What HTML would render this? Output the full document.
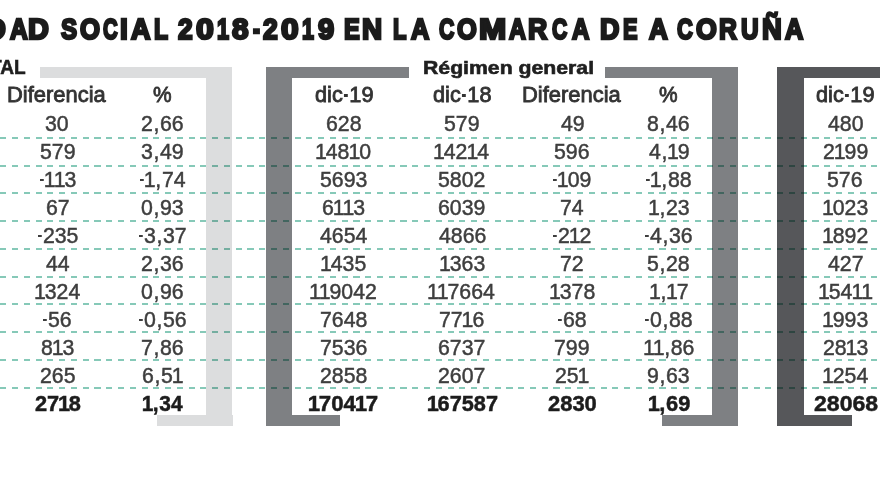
<!DOCTYPE html>
<html><head><meta charset="utf-8"><title>Seguridad Social</title>
<style>
html,body{margin:0;padding:0;background:#fff;}
body{width:880px;height:495px;overflow:hidden;position:relative;font-family:"Liberation Sans",sans-serif;}
.x{position:absolute;white-space:nowrap;line-height:1;transform-origin:0 0;}
.n{font-size:22.5px;color:#3e3e3e;-webkit-text-stroke:0.5px #3e3e3e;}
.nb{font-size:22.5px;font-weight:bold;color:#1c1c1c;-webkit-text-stroke:0.5px #1c1c1c;}
.hd{font-size:22.5px;color:#333;-webkit-text-stroke:0.85px #333;}
.ti{font-size:29.6px;font-weight:bold;color:#1b1b1b;-webkit-text-stroke:2.5px #1b1b1b;}
.gh{font-size:19px;font-weight:bold;color:#1f1f1f;-webkit-text-stroke:0.6px #1f1f1f;}
.gh2{font-size:20.3px;font-weight:bold;color:#1f1f1f;-webkit-text-stroke:0.6px #1f1f1f;}
i{font-style:normal;}
i.o{margin:0 -1.1px;}
i.c{margin:0 0.7px;}
.nb i.o{margin:0 -1.3px;}
i.m{display:inline-block;width:4.4px;height:2.1px;background:currentColor;vertical-align:6.3px;margin:0 0.8px 0 0;}
.hd i.m{width:4px;height:2.8px;vertical-align:5.2px;margin:0 1.4px;}
.bar{position:absolute;}
.dl{mix-blend-mode:multiply;position:absolute;left:0;width:880px;height:2px;background:repeating-linear-gradient(90deg,transparent 0,transparent 0.3px,#86c9b8 0.3px,#86c9b8 6.4px,transparent 6.4px,transparent 11.77px);}
</style></head><body>
<div class="bar" style="left:40.2px;top:67.2px;width:192.3px;height:10.8px;background:#dcddde"></div>
<div class="bar" style="left:206.2px;top:67.2px;width:26.3px;height:358.6px;background:#dcddde"></div>
<div class="bar" style="left:157px;top:415px;width:75.5px;height:10.8px;background:#dcddde"></div>
<div class="bar" style="left:266px;top:67.2px;width:143.0px;height:10.8px;background:#7e8083"></div>
<div class="bar" style="left:266px;top:67.2px;width:26.4px;height:358.6px;background:#7e8083"></div>
<div class="bar" style="left:266px;top:415px;width:74.0px;height:10.8px;background:#7e8083"></div>
<div class="bar" style="left:604.5px;top:67.2px;width:133.9px;height:10.8px;background:#7e8083"></div>
<div class="bar" style="left:711.6px;top:67.2px;width:26.8px;height:358.6px;background:#7e8083"></div>
<div class="bar" style="left:662px;top:415px;width:76.4px;height:10.8px;background:#7e8083"></div>
<div class="bar" style="left:777.4px;top:67.2px;width:102.6px;height:10.8px;background:#56575a"></div>
<div class="bar" style="left:777.4px;top:67.2px;width:26.9px;height:358.6px;background:#56575a"></div>
<div class="bar" style="left:777.4px;top:415px;width:74.6px;height:10.8px;background:#56575a"></div>
<div class="dl" style="top:137.00px"></div>
<div class="dl" style="top:164.73px"></div>
<div class="dl" style="top:192.46px"></div>
<div class="dl" style="top:220.19px"></div>
<div class="dl" style="top:247.92px"></div>
<div class="dl" style="top:275.65px"></div>
<div class="dl" style="top:303.38px"></div>
<div class="dl" style="top:331.11px"></div>
<div class="dl" style="top:358.84px"></div>
<div class="dl" style="top:386.57px"></div>
<div class="x ti" style="left:-14.58px;top:13.50px;transform:scaleX(0.9762)">D</div>
<div class="x ti" style="left:10.03px;top:13.50px;transform:scaleX(0.8304)">A</div>
<div class="x ti" style="left:28.42px;top:13.50px;transform:scaleX(0.9762)">D</div>
<div class="x ti" style="left:60.90px;top:13.50px;transform:scaleX(0.8150)">S</div>
<div class="x ti" style="left:79.60px;top:13.50px;transform:scaleX(0.8696)">O</div>
<div class="x ti" style="left:102.60px;top:13.50px;transform:scaleX(0.6864)">C</div>
<div class="x ti" style="left:119.86px;top:13.50px;transform:scaleX(0.9429)">I</div>
<div class="x ti" style="left:131.31px;top:13.50px;transform:scaleX(0.9087)">A</div>
<div class="x ti" style="left:153.52px;top:13.50px;transform:scaleX(0.7778)">L</div>
<div class="x ti" style="left:177.80px;top:13.50px;transform:scaleX(0.8882)">2</div>
<div class="x ti" style="left:195.50px;top:13.50px;transform:scaleX(1.0824)">0</div>
<div class="x ti" style="left:216.57px;top:13.50px;transform:scaleX(0.7313)">1</div>
<div class="x ti" style="left:232.00px;top:13.50px;transform:scaleX(1.0059)">8</div>
<div class="x ti" style="left:252.70px;top:13.50px;transform:scaleX(0.7000)">-</div>
<div class="x ti" style="left:263.40px;top:13.50px;transform:scaleX(0.8941)">2</div>
<div class="x ti" style="left:280.80px;top:13.50px;transform:scaleX(1.0706)">0</div>
<div class="x ti" style="left:302.07px;top:13.50px;transform:scaleX(0.7250)">1</div>
<div class="x ti" style="left:317.60px;top:13.50px;transform:scaleX(0.9824)">9</div>
<div class="x ti" style="left:343.80px;top:13.50px;transform:scaleX(0.8000)">E</div>
<div class="x ti" style="left:362.46px;top:13.50px;transform:scaleX(0.9400)">N</div>
<div class="x ti" style="left:392.76px;top:13.50px;transform:scaleX(0.7444)">L</div>
<div class="x ti" style="left:410.86px;top:13.50px;transform:scaleX(0.8565)">A</div>
<div class="x ti" style="left:439.10px;top:13.50px;transform:scaleX(0.7182)">C</div>
<div class="x ti" style="left:457.10px;top:13.50px;transform:scaleX(0.8609)">O</div>
<div class="x ti" style="left:479.00px;top:13.50px;transform:scaleX(1.1043)">M</div>
<div class="x ti" style="left:509.49px;top:13.50px;transform:scaleX(0.7913)">A</div>
<div class="x ti" style="left:528.20px;top:13.50px;transform:scaleX(0.9000)">R</div>
<div class="x ti" style="left:551.60px;top:13.50px;transform:scaleX(0.7136)">C</div>
<div class="x ti" style="left:572.41px;top:13.50px;transform:scaleX(0.8130)">A</div>
<div class="x ti" style="left:599.69px;top:13.50px;transform:scaleX(0.9095)">D</div>
<div class="x ti" style="left:622.56px;top:13.50px;transform:scaleX(0.7368)">E</div>
<div class="x ti" style="left:648.58px;top:13.50px;transform:scaleX(0.8783)">A</div>
<div class="x ti" style="left:676.90px;top:13.50px;transform:scaleX(0.7409)">C</div>
<div class="x ti" style="left:695.70px;top:13.50px;transform:scaleX(0.9043)">O</div>
<div class="x ti" style="left:718.66px;top:13.50px;transform:scaleX(0.8364)">R</div>
<div class="x ti" style="left:741.10px;top:13.50px;transform:scaleX(0.8238)">U</div>
<div class="x ti" style="left:762.18px;top:13.50px;transform:scaleX(0.9250)">Ñ</div>
<div class="x ti" style="left:785.46px;top:13.50px;transform:scaleX(0.8565)">A</div>
<div class="x gh2" style="left:-9.72px;top:57.40px;transform:scaleX(0.9400)">TAL</div>
<div class="x gh" style="left:422.88px;top:58.30px;transform:scaleX(1.1172)">Régimen general</div>
<div class="x hd" style="left:7.39px;top:83.80px;transform:scaleX(0.9750)">Diferencia</div>
<div class="x n" style="left:45.31px;top:113.40px;transform:scaleX(0.9450)">30</div>
<div class="x n" style="left:39.65px;top:141.33px;transform:scaleX(0.9450)">579</div>
<div class="x n" style="left:39.65px;top:169.26px;transform:scaleX(0.9450)"><i class="m"></i><i class="o">1</i><i class="o">1</i>3</div>
<div class="x n" style="left:45.79px;top:197.19px;transform:scaleX(0.9450)">67</div>
<div class="x n" style="left:37.76px;top:225.12px;transform:scaleX(0.9450)"><i class="m"></i>235</div>
<div class="x n" style="left:45.79px;top:253.05px;transform:scaleX(0.9450)">44</div>
<div class="x n" style="left:34.92px;top:280.98px;transform:scaleX(0.9450)"><i class="o">1</i>324</div>
<div class="x n" style="left:43.43px;top:308.91px;transform:scaleX(0.9450)"><i class="m"></i>56</div>
<div class="x n" style="left:40.59px;top:336.84px;transform:scaleX(0.9450)">8<i class="o">1</i>3</div>
<div class="x n" style="left:39.65px;top:364.77px;transform:scaleX(0.9450)">265</div>
<div class="x nb" style="left:35.00px;top:392.90px;transform:scaleX(0.9681)">27<i class="o">1</i>8</div>
<div class="x hd" style="left:153.30px;top:83.80px;transform:scaleX(0.9300)">%</div>
<div class="x n" style="left:140.87px;top:113.40px;transform:scaleX(0.9450)">2<i class="c">,</i>66</div>
<div class="x n" style="left:140.87px;top:141.33px;transform:scaleX(0.9450)">3<i class="c">,</i>49</div>
<div class="x n" style="left:139.92px;top:169.26px;transform:scaleX(0.9450)"><i class="m"></i><i class="o">1</i><i class="c">,</i>74</div>
<div class="x n" style="left:140.87px;top:197.19px;transform:scaleX(0.9450)">0<i class="c">,</i>93</div>
<div class="x n" style="left:138.97px;top:225.12px;transform:scaleX(0.9450)"><i class="m"></i>3<i class="c">,</i>37</div>
<div class="x n" style="left:140.87px;top:253.05px;transform:scaleX(0.9450)">2<i class="c">,</i>36</div>
<div class="x n" style="left:140.87px;top:280.98px;transform:scaleX(0.9450)">0<i class="c">,</i>96</div>
<div class="x n" style="left:138.97px;top:308.91px;transform:scaleX(0.9450)"><i class="m"></i>0<i class="c">,</i>56</div>
<div class="x n" style="left:140.87px;top:336.84px;transform:scaleX(0.9450)">7<i class="c">,</i>86</div>
<div class="x n" style="left:141.81px;top:364.77px;transform:scaleX(0.9450)">6<i class="c">,</i>5<i class="o">1</i></div>
<div class="x nb" style="left:142.50px;top:392.90px;transform:scaleX(0.9302)"><i class="o">1</i><i class="c">,</i>34</div>
<div class="x hd" style="left:314.55px;top:83.80px;transform:scaleX(0.9650)">dic<i class="m"></i>19</div>
<div class="x n" style="left:325.55px;top:113.40px;transform:scaleX(0.9450)">628</div>
<div class="x n" style="left:316.10px;top:141.33px;transform:scaleX(0.9450)"><i class="o">1</i>48<i class="o">1</i>0</div>
<div class="x n" style="left:319.88px;top:169.26px;transform:scaleX(0.9450)">5693</div>
<div class="x n" style="left:321.76px;top:197.19px;transform:scaleX(0.9450)">6<i class="o">1</i><i class="o">1</i>3</div>
<div class="x n" style="left:319.88px;top:225.12px;transform:scaleX(0.9450)">4654</div>
<div class="x n" style="left:321.29px;top:253.05px;transform:scaleX(0.9450)"><i class="o">1</i>435</div>
<div class="x n" style="left:310.43px;top:280.98px;transform:scaleX(0.9450)"><i class="o">1</i><i class="o">1</i>9042</div>
<div class="x n" style="left:319.88px;top:308.91px;transform:scaleX(0.9450)">7648</div>
<div class="x n" style="left:319.88px;top:336.84px;transform:scaleX(0.9450)">7536</div>
<div class="x n" style="left:319.88px;top:364.77px;transform:scaleX(0.9450)">2858</div>
<div class="x nb" style="left:308.75px;top:392.90px;transform:scaleX(0.9893)"><i class="o">1</i>704<i class="o">1</i>7</div>
<div class="x hd" style="left:432.85px;top:83.80px;transform:scaleX(0.9650)">dic<i class="m"></i>18</div>
<div class="x n" style="left:443.85px;top:113.40px;transform:scaleX(0.9450)">579</div>
<div class="x n" style="left:434.40px;top:141.33px;transform:scaleX(0.9450)"><i class="o">1</i>42<i class="o">1</i>4</div>
<div class="x n" style="left:438.18px;top:169.26px;transform:scaleX(0.9450)">5802</div>
<div class="x n" style="left:438.18px;top:197.19px;transform:scaleX(0.9450)">6039</div>
<div class="x n" style="left:438.65px;top:225.12px;transform:scaleX(0.9450)">4866</div>
<div class="x n" style="left:439.59px;top:253.05px;transform:scaleX(0.9450)"><i class="o">1</i>363</div>
<div class="x n" style="left:428.25px;top:280.98px;transform:scaleX(0.9450)"><i class="o">1</i><i class="o">1</i>7664</div>
<div class="x n" style="left:439.12px;top:308.91px;transform:scaleX(0.9450)">77<i class="o">1</i>6</div>
<div class="x n" style="left:438.18px;top:336.84px;transform:scaleX(0.9450)">6737</div>
<div class="x n" style="left:438.18px;top:364.77px;transform:scaleX(0.9450)">2607</div>
<div class="x nb" style="left:427.50px;top:392.90px;transform:scaleX(0.9653)"><i class="o">1</i>67587</div>
<div class="x hd" style="left:521.79px;top:83.80px;transform:scaleX(0.9750)">Diferencia</div>
<div class="x n" style="left:560.66px;top:113.40px;transform:scaleX(0.9450)">49</div>
<div class="x n" style="left:554.04px;top:141.33px;transform:scaleX(0.9450)">596</div>
<div class="x n" style="left:553.10px;top:169.26px;transform:scaleX(0.9450)"><i class="m"></i><i class="o">1</i>09</div>
<div class="x n" style="left:559.72px;top:197.19px;transform:scaleX(0.9450)">74</div>
<div class="x n" style="left:553.10px;top:225.12px;transform:scaleX(0.9450)"><i class="m"></i>2<i class="o">1</i>2</div>
<div class="x n" style="left:560.19px;top:253.05px;transform:scaleX(0.9450)">72</div>
<div class="x n" style="left:549.79px;top:280.98px;transform:scaleX(0.9450)"><i class="o">1</i>378</div>
<div class="x n" style="left:557.83px;top:308.91px;transform:scaleX(0.9450)"><i class="m"></i>68</div>
<div class="x n" style="left:554.04px;top:336.84px;transform:scaleX(0.9450)">799</div>
<div class="x n" style="left:554.52px;top:364.77px;transform:scaleX(0.9450)">25<i class="o">1</i></div>
<div class="x nb" style="left:547.50px;top:392.90px;transform:scaleX(0.9750)">2830</div>
<div class="x hd" style="left:659.30px;top:83.80px;transform:scaleX(0.9300)">%</div>
<div class="x n" style="left:646.87px;top:113.40px;transform:scaleX(0.9450)">8<i class="c">,</i>46</div>
<div class="x n" style="left:648.75px;top:141.33px;transform:scaleX(0.9450)">4<i class="c">,</i><i class="o">1</i>9</div>
<div class="x n" style="left:645.92px;top:169.26px;transform:scaleX(0.9450)"><i class="m"></i><i class="o">1</i><i class="c">,</i>88</div>
<div class="x n" style="left:648.75px;top:197.19px;transform:scaleX(0.9450)"><i class="o">1</i><i class="c">,</i>23</div>
<div class="x n" style="left:644.98px;top:225.12px;transform:scaleX(0.9450)"><i class="m"></i>4<i class="c">,</i>36</div>
<div class="x n" style="left:646.87px;top:253.05px;transform:scaleX(0.9450)">5<i class="c">,</i>28</div>
<div class="x n" style="left:649.70px;top:280.98px;transform:scaleX(0.9450)"><i class="o">1</i><i class="c">,</i><i class="o">1</i>7</div>
<div class="x n" style="left:644.98px;top:308.91px;transform:scaleX(0.9450)"><i class="m"></i>0<i class="c">,</i>88</div>
<div class="x n" style="left:643.56px;top:336.84px;transform:scaleX(0.9450)"><i class="o">1</i><i class="o">1</i><i class="c">,</i>86</div>
<div class="x n" style="left:646.87px;top:364.77px;transform:scaleX(0.9450)">9<i class="c">,</i>63</div>
<div class="x nb" style="left:648.75px;top:392.90px;transform:scaleX(0.9702)"><i class="o">1</i><i class="c">,</i>69</div>
<div class="x hd" style="left:816.25px;top:83.80px;transform:scaleX(0.9650)">dic<i class="m"></i>19</div>
<div class="x n" style="left:827.72px;top:113.40px;transform:scaleX(0.9450)">480</div>
<div class="x n" style="left:822.52px;top:141.33px;transform:scaleX(0.9450)">2<i class="o">1</i>99</div>
<div class="x n" style="left:827.25px;top:169.26px;transform:scaleX(0.9450)">576</div>
<div class="x n" style="left:822.99px;top:197.19px;transform:scaleX(0.9450)"><i class="o">1</i>023</div>
<div class="x n" style="left:822.99px;top:225.12px;transform:scaleX(0.9450)"><i class="o">1</i>892</div>
<div class="x n" style="left:827.72px;top:253.05px;transform:scaleX(0.9450)">427</div>
<div class="x n" style="left:818.74px;top:280.98px;transform:scaleX(0.9450)"><i class="o">1</i>54<i class="o">1</i><i class="o">1</i></div>
<div class="x n" style="left:822.99px;top:308.91px;transform:scaleX(0.9450)"><i class="o">1</i>993</div>
<div class="x n" style="left:822.52px;top:336.84px;transform:scaleX(0.9450)">28<i class="o">1</i>3</div>
<div class="x n" style="left:822.52px;top:364.77px;transform:scaleX(0.9450)"><i class="o">1</i>254</div>
<div class="x nb" style="left:813.50px;top:392.90px;transform:scaleX(1.0242)">28068</div>
</body></html>
